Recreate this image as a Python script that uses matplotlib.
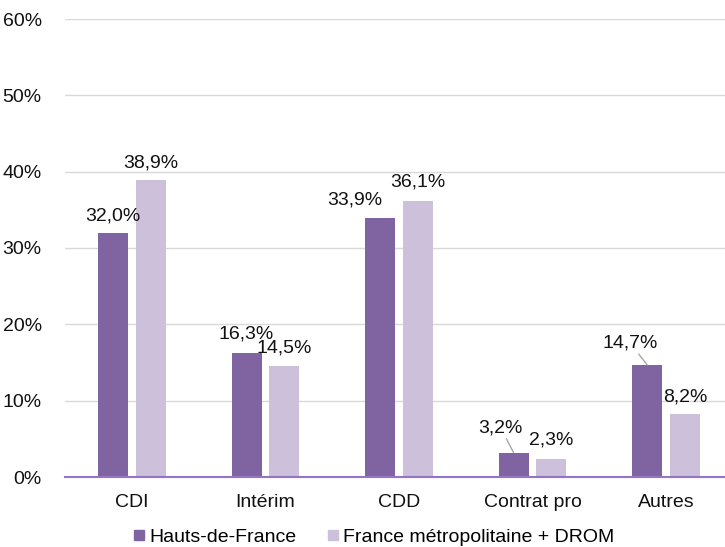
import matplotlib
matplotlib.use("Agg")
from matplotlib import pyplot as plt
from matplotlib.lines import Line2D
import numpy as np

plt.rcParams['font.family'] = ['Liberation Sans', 'DejaVu Sans']

categories = ["CDI", "Intérim", "CDD", "Contrat pro", "Autres"]
hdf = [32.0, 16.3, 33.9, 3.2, 14.7]          # Hauts-de-France
france = [38.9, 14.5, 36.1, 2.3, 8.2]        # France métropolitaine + DROM
series_names = ["Hauts-de-France", "France métropolitaine + DROM"]

dark = "#8064A2"
light = "#CCC0DA"

# label offsets in pixels (hand placed like in the original)
off_hdf = [(0, 17), (0, 19), (-25, 18), (-13, 25), (-17, 22)]
off_fr = [(0, 17), (0, 18), (0, 19), (0, 19), (0, 17)]
leader_hdf = [False, False, False, True, True]

fs = 14

fig = plt.figure(figsize=(7.25, 5.47), dpi=100)
ax = fig.add_axes([65.25 / 725, 70 / 547, 667.5 / 725, 458 / 547])

x = np.arange(len(categories))
w = 0.225
d = 0.142
ax.bar(x - d, hdf, w, color=dark, zorder=3)
ax.bar(x + d, france, w, color=light, zorder=3)

def lab(v):
    return f"{v:.1f}".replace('.', ',') + '%'

for i in range(len(categories)):
    ap = None
    if leader_hdf[i]:
        ap = dict(arrowstyle='-', color='#A6A6A6', lw=1, shrinkA=0, shrinkB=0)
    ax.annotate(lab(hdf[i]), xy=(x[i] - d, hdf[i]), xytext=off_hdf[i],
                textcoords='offset pixels', ha='center', va='center',
                fontsize=fs, color='#111111', arrowprops=ap, zorder=4)
    ax.annotate(lab(france[i]), xy=(x[i] + d, france[i]), xytext=off_fr[i],
                textcoords='offset pixels', ha='center', va='center',
                fontsize=fs, color='#111111', zorder=4)

ax.set_xlim(-0.5, len(categories) - 0.5)
ax.set_ylim(0, 60)
ax.set_yticks(range(0, 61, 10))
ax.set_yticklabels([f"{t}%" for t in range(0, 61, 10)])
ax.set_xticks(x)
ax.set_xticklabels(categories)
ax.tick_params(axis='both', length=0, labelsize=fs, colors='#111111')
ax.tick_params(axis='y', pad=17)
ax.tick_params(axis='x', pad=12)
ax.grid(axis='y', color='#D9D9D9', lw=1, zorder=0)
for s in ['top', 'right', 'left']:
    ax.spines[s].set_visible(False)
ax.spines['bottom'].set_color('#9673C6')
ax.spines['bottom'].set_linewidth(1.5)
ax.spines['bottom'].set_zorder(5)

handles = [Line2D([], [], marker='s', ls='none', color=c, markersize=7.2)
           for c in (dark, light)]
fig.legend(handles, series_names, loc='center', bbox_to_anchor=(0.515, 0.018),
           ncol=2, frameon=False, fontsize=fs, handlelength=0.7,
           handletextpad=0.2, columnspacing=1.5, borderaxespad=0)

fig.savefig("out.png", dpi=100)
